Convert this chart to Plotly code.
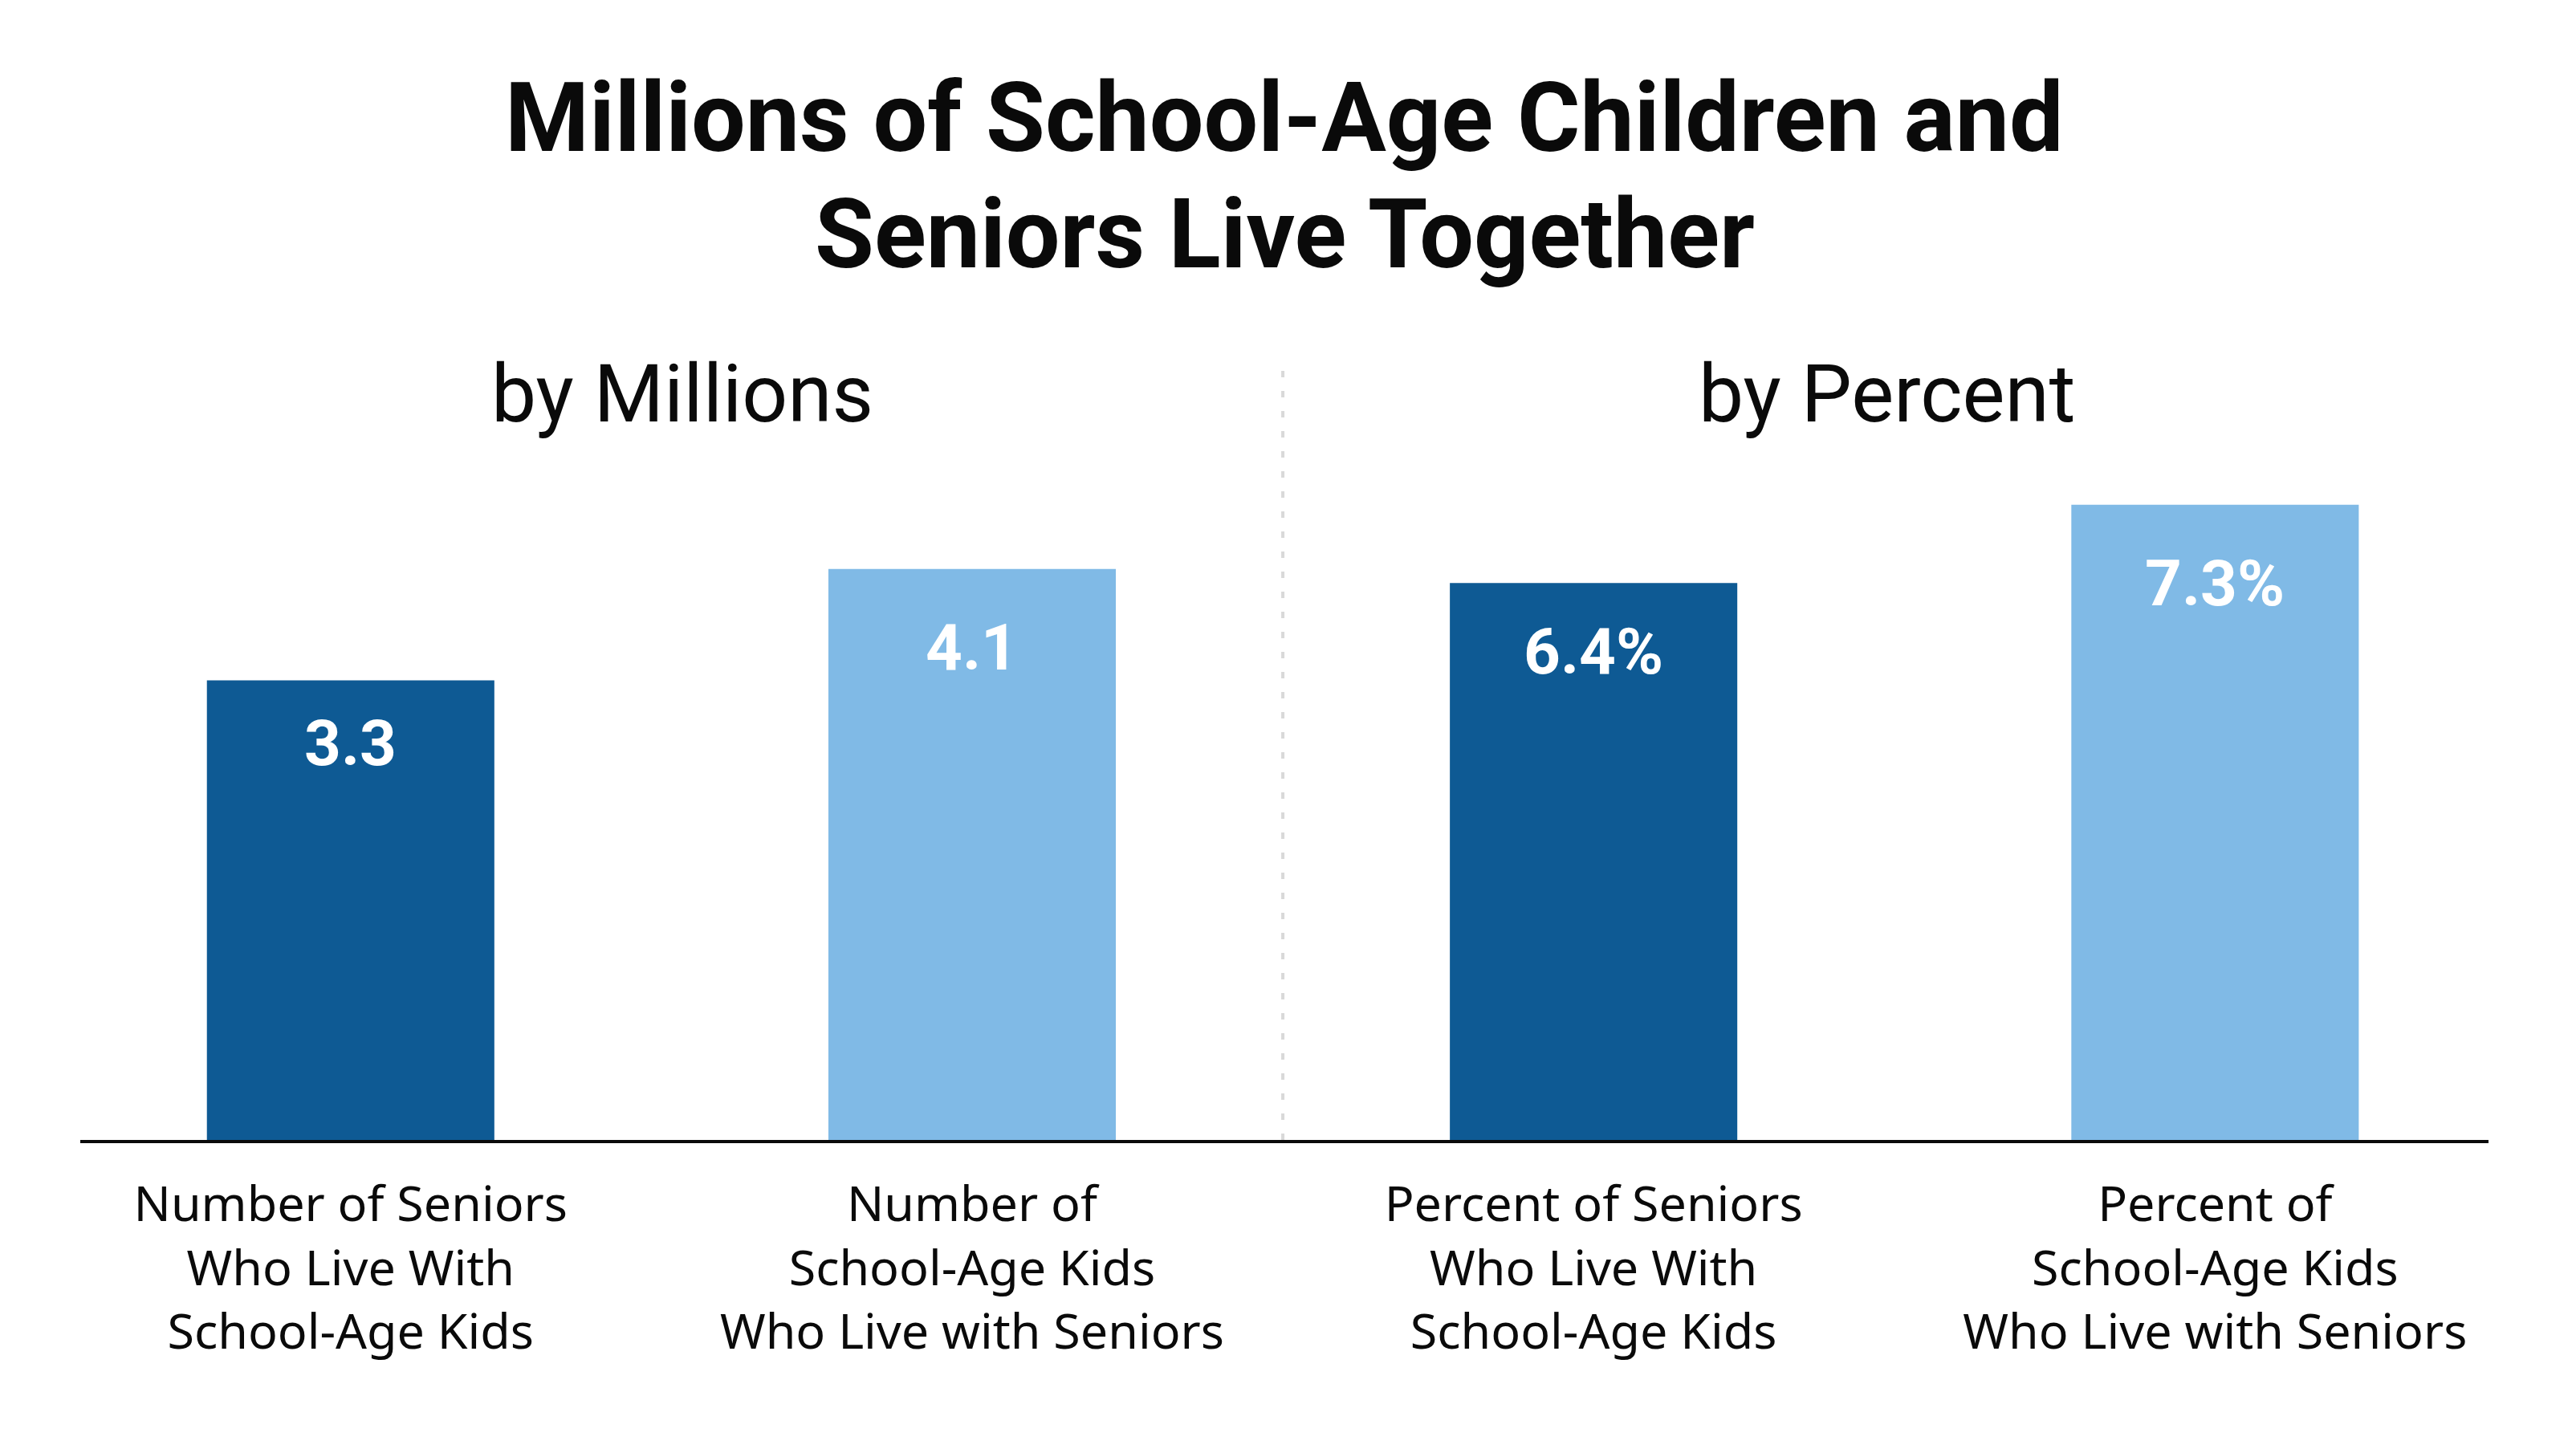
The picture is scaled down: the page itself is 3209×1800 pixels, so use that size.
import plotly.graph_objects as go

# ---- data ----
categories = [
    "Number of Seniors<br>Who Live With<br>School-Age Kids",
    "Number of<br>School-Age Kids<br>Who Live with Seniors",
    "Percent of Seniors<br>Who Live With<br>School-Age Kids",
    "Percent of<br>School-Age Kids<br>Who Live with Seniors",
]
millions = [3.3, 4.1]          # millions
percents = [6.4, 7.3]          # percent
panel_titles = ["by Millions", "by Percent"]
title_lines = ["Millions of School-Age Children and", "Seniors Live Together"]

DARK = "#0e5a94"
LIGHT = "#80bae6"
bar_colors = [DARK, LIGHT]
INK = "#0a0a0a"

# page has an 8px body margin, so the figure is 8px smaller than the window
W, H = 3201, 1792
fig = go.Figure()

fig.add_trace(go.Bar(
    x=categories[:2], y=millions, marker=dict(color=bar_colors, line=dict(width=0)),
    width=0.4625, yaxis="y", hoverinfo="skip", showlegend=False,
))
fig.add_trace(go.Bar(
    x=categories[2:], y=percents, marker=dict(color=bar_colors, line=dict(width=0)),
    width=0.4625, yaxis="y2", hoverinfo="skip", showlegend=False,
))

label_font = dict(family="Roboto", size=80, color="white", weight="bold")
annotations = []
# value labels inside bars (placed at a fixed fraction of each bar's height)
for cat, v in zip(categories[:2], millions):
    annotations.append(dict(x=cat, y=v * 0.862, xref="x", yref="y", text=f"{v:.1f}",
                            showarrow=False, yanchor="middle", font=label_font))
for cat, v in zip(categories[2:], percents):
    annotations.append(dict(x=cat, y=v * 0.876, xref="x", yref="y2", text=f"{v:.1f}%",
                            showarrow=False, yanchor="middle", font=label_font))
# panel titles
for px, t in zip([0.25, 0.75], panel_titles):
    annotations.append(dict(x=px, y=0.958, xref="paper", yref="paper", text=t,
                            showarrow=False, xanchor="center", yanchor="middle",
                            font=dict(family="Roboto", size=100, color=INK)))
# main title (two lines)
for ty, t in zip([1.3125, 1.1625], title_lines):
    annotations.append(dict(x=0.5, y=ty, xref="paper", yref="paper", text=t,
                            showarrow=False, xanchor="center", yanchor="middle",
                            font=dict(family="Roboto", size=120, color=INK, weight="bold")))

fig.update_layout(
    width=W, height=H,
    margin=dict(l=92, r=109, t=442, b=380, autoexpand=False),
    paper_bgcolor="white", plot_bgcolor="white",
    barmode="overlay",
    xaxis=dict(type="category", categoryorder="array", categoryarray=categories,
               range=[-0.435, 3.44], showline=True, linecolor=INK, linewidth=4,
               ticks="", showgrid=False, zeroline=False, automargin=False,
               ticklabelstandoff=24,
               tickfont=dict(family="Noto Sans", size=61, color=INK)),
    yaxis=dict(range=[0, 5.591], visible=False, showgrid=False, zeroline=False),
    yaxis2=dict(range=[0, 8.948], visible=False, showgrid=False, zeroline=False,
                overlaying="y", side="right"),
    annotations=annotations,
    shapes=[dict(type="line", xref="x", yref="paper", x0=1.5, x1=1.5, y0=0, y1=1,
                 line=dict(color="#d9d9d9", width=4, dash="8px,17px"), layer="below")],
)

fig.write_html("out.html")
